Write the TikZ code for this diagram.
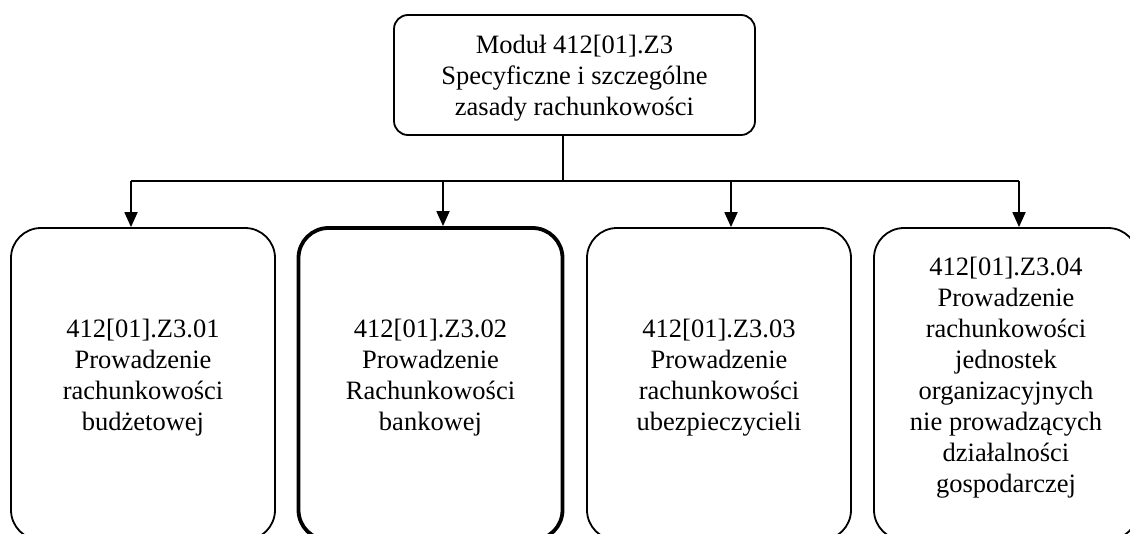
\documentclass[tikz,border=0pt]{standalone}
\usepackage{fontspec}
\setmainfont{Liberation Serif}
\usetikzlibrary{arrows.meta}
\begin{document}
\begin{tikzpicture}[x=1pt,y=-1pt,
  txt/.style={align=center,font=\fontsize{26.5}{31}\selectfont},
  topbox/.style={draw,line width=1.8pt,rounded corners=14pt,minimum width=361pt,minimum height=120pt,inner sep=0pt,text depth=0pt,txt},
  subbox/.style={draw,line width=1.8pt,rounded corners=30pt,minimum width=264pt,minimum height=312pt,inner sep=0pt,text depth=18pt,txt},
  thickbox/.style={subbox,line width=3.8pt},
  conn/.style={line width=1.8pt},
  arr/.style={conn,-{Triangle[length=15pt,width=13pt]}}]
\useasboundingbox (0,0) rectangle (1130,533);
\clip (0,0) rectangle (1130,533);
\node[topbox] (top) at (574.5,75) {Moduł 412[01].Z3\\Specyficzne i szczególne\\zasady rachunkowości};
\node[subbox] (b1) at (143,384) {412[01].Z3.01\\Prowadzenie\\rachunkowości\\budżetowej};
\node[thickbox] (b2) at (430.5,384) {412[01].Z3.02\\Prowadzenie\\Rachunkowości\\bankowej};
\node[subbox] (b3) at (719,384) {412[01].Z3.03\\Prowadzenie\\rachunkowości\\ubezpieczycieli};
\node[subbox,text depth=19pt] (b4) at (1006,384) {412[01].Z3.04\\Prowadzenie\\rachunkowości\\jednostek\\organizacyjnych\\nie prowadzących\\działalności\\gospodarczej};
\coordinate (j) at (563,181);
\coordinate (c1) at (131,181);
\coordinate (c2) at (443,181);
\coordinate (c3) at (731,181);
\coordinate (c4) at (1019,181);
\draw[conn] (top.south -| j) -- (j);
\draw[conn] (c1) -- (c4);
\draw[arr] (c1) -- (c1 |- b1.north);
\draw[arr] (c2) -- (c2 |- b2.north);
\draw[arr] (c3) -- (c3 |- b3.north);
\draw[arr] (c4) -- (c4 |- b4.north);
\end{tikzpicture}
\end{document}
